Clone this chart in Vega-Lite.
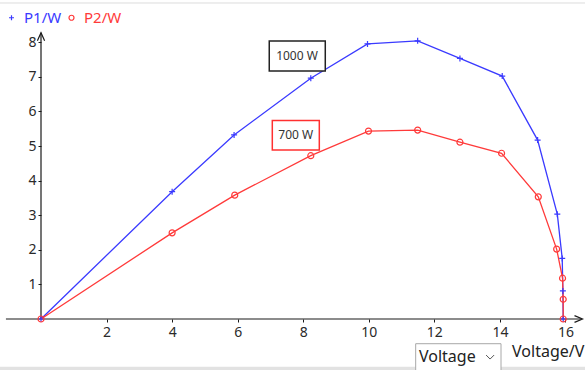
{
  "$schema": "https://vega.github.io/schema/vega-lite/v6.json",
  "width": 585,
  "height": 370,
  "autosize": {"type": "none"},
  "padding": 0,
  "background": "white",
  "config": {"view": {"stroke": null}, "font": "Noto Sans"},
  "resolve": {"legend": {"color": "independent", "shape": "independent"}},
  "datasets": {
    "curves": [
      {"series": "P1/W", "idx": 0, "v": 0, "p": 0},
      {"series": "P1/W", "idx": 1, "v": 4.0, "p": 3.68},
      {"series": "P1/W", "idx": 2, "v": 5.89, "p": 5.32},
      {"series": "P1/W", "idx": 3, "v": 8.23, "p": 6.96},
      {"series": "P1/W", "idx": 4, "v": 9.96, "p": 7.95},
      {"series": "P1/W", "idx": 5, "v": 11.49, "p": 8.04},
      {"series": "P1/W", "idx": 6, "v": 12.78, "p": 7.53},
      {"series": "P1/W", "idx": 7, "v": 14.07, "p": 7.02},
      {"series": "P1/W", "idx": 8, "v": 15.15, "p": 5.17},
      {"series": "P1/W", "idx": 9, "v": 15.75, "p": 3.03},
      {"series": "P1/W", "idx": 10, "v": 15.9, "p": 1.75},
      {"series": "P1/W", "idx": 11, "v": 15.92, "p": 0.81},
      {"series": "P1/W", "idx": 12, "v": 15.93, "p": 0},
      {"series": "P2/W", "idx": 0, "v": 0, "p": 0},
      {"series": "P2/W", "idx": 1, "v": 4.0, "p": 2.49},
      {"series": "P2/W", "idx": 2, "v": 5.91, "p": 3.58},
      {"series": "P2/W", "idx": 3, "v": 8.23, "p": 4.72},
      {"series": "P2/W", "idx": 4, "v": 9.99, "p": 5.43},
      {"series": "P2/W", "idx": 5, "v": 11.49, "p": 5.46},
      {"series": "P2/W", "idx": 6, "v": 12.78, "p": 5.11},
      {"series": "P2/W", "idx": 7, "v": 14.05, "p": 4.79},
      {"series": "P2/W", "idx": 8, "v": 15.17, "p": 3.53},
      {"series": "P2/W", "idx": 9, "v": 15.73, "p": 2.02},
      {"series": "P2/W", "idx": 10, "v": 15.91, "p": 1.18},
      {"series": "P2/W", "idx": 11, "v": 15.93, "p": 0.57},
      {"series": "P2/W", "idx": 12, "v": 15.93, "p": 0}
    ]
  },
  "encoding": {
    "x": {
      "field": "v",
      "type": "quantitative",
      "scale": {"domain": [-1.2508, 16.595], "nice": false, "zero": false},
      "axis": {
        "orient": "bottom",
        "offset": -51,
        "values": [2, 4, 6, 8, 10, 12, 14, 16],
        "domain": false,
        "grid": false,
        "tickSize": 3,
        "tickColor": "#1a1a1a",
        "labelFont": "Noto Sans",
        "labelFontSize": 14,
        "labelColor": "#2a2a2a",
        "labelPadding": 3,
        "labelFlush": false,
        "labelOverlap": false,
        "title": null
      }
    },
    "y": {
      "field": "p",
      "type": "quantitative",
      "scale": {"domain": [-1.474, 9.2197], "nice": false, "zero": false},
      "axis": {
        "orient": "left",
        "offset": -41,
        "values": [1, 2, 3, 4, 5, 6, 7, 8],
        "domain": false,
        "grid": false,
        "tickSize": 3,
        "tickColor": "#1a1a1a",
        "labelFont": "Noto Sans",
        "labelFontSize": 14,
        "labelColor": "#2a2a2a",
        "labelPadding": 2,
        "labelFlush": false,
        "labelOverlap": false,
        "title": null
      }
    }
  },
  "layer": [
    {
      "data": {"values": [{"v": -1.2508, "v2": 16.595, "p": 9.133, "p2": 9.133}]},
      "mark": {"type": "rule", "color": "#dcdcdc", "strokeWidth": 1},
      "encoding": {"x2": {"field": "v2"}, "y2": {"field": "p2"}}
    },
    {
      "data": {"values": [{"v": -1.2508, "v2": 16.595, "p": -1.474, "p2": -1.379}]},
      "mark": {"type": "rect", "color": "#e2e2e2"},
      "encoding": {"x2": {"field": "v2"}, "y2": {"field": "p2"}}
    },
    {
      "data": {"values": [
        {"v": -1.07, "v2": 16.5, "p": 0, "p2": 0},
        {"v": 0, "v2": 0, "p": 0, "p2": 8.27}
      ]},
      "mark": {"type": "rule", "color": "#1a1a1a", "strokeWidth": 1.2},
      "encoding": {"x2": {"field": "v2"}, "y2": {"field": "p2"}}
    },
    {
      "data": {"values": [{"v": 0, "p": 8.159}]},
      "mark": {"type": "point", "shape": "M-0.9,1L0,-1L0.9,1", "size": 64, "filled": false, "stroke": "#1a1a1a", "strokeWidth": 1.2, "opacity": 1}
    },
    {
      "data": {"values": [{"v": 16.397, "p": 0}]},
      "mark": {"type": "point", "shape": "M-1,-0.85L1,0L-1,0.85", "size": 64, "filled": false, "stroke": "#1a1a1a", "strokeWidth": 1.2, "opacity": 1}
    },
    {
      "data": {"name": "curves"},
      "mark": {"type": "line", "strokeWidth": 1.3},
      "encoding": {
        "color": {"field": "series", "type": "nominal", "scale": {"domain": ["P1/W", "P2/W"], "range": ["#3a3aff", "#ff3a3a"]}, "legend": null},
        "detail": {"field": "series"},
        "order": {"field": "idx", "type": "quantitative"}
      }
    },
    {
      "data": {"name": "curves"},
      "mark": {"type": "point", "filled": false, "size": 36, "strokeWidth": 1.2, "opacity": 1},
      "encoding": {
        "color": {
          "field": "series",
          "type": "nominal",
          "scale": {"domain": ["P1/W", "P2/W"], "range": ["#3a3aff", "#ff3a3a"]},
          "legend": {
            "orient": "none",
            "legendX": 4,
            "legendY": 10,
            "direction": "horizontal",
            "title": null,
            "labelFont": "Noto Sans",
            "labelFontSize": 15,
            "labelColor": {"expr": "datum.value === 'P1/W' ? '#3a3aff' : '#ff3a3a'"},
            "symbolSize": 25,
            "symbolStrokeWidth": 1.2,
            "labelOffset": 5,
            "columnPadding": 2
          }
        },
        "shape": {
          "field": "series",
          "type": "nominal",
          "scale": {"domain": ["P1/W", "P2/W"], "range": ["M-1,0H1M0,-1V1", "circle"]},
          "legend": {
            "orient": "none",
            "legendX": 4,
            "legendY": 10,
            "direction": "horizontal",
            "title": null,
            "labelFont": "Noto Sans",
            "labelFontSize": 15,
            "labelColor": {"expr": "datum.value === 'P1/W' ? '#3a3aff' : '#ff3a3a'"},
            "symbolSize": 25,
            "symbolStrokeWidth": 1.2,
            "labelOffset": 5,
            "columnPadding": 2
          }
        }
      }
    },
    {
      "data": {"values": [{"v": 6.963, "v2": 8.672, "p": 8.035, "p2": 7.168}]},
      "mark": {"type": "rect", "fill": "white", "stroke": "#222222", "strokeWidth": 1.5},
      "encoding": {"x2": {"field": "v2"}, "y2": {"field": "p2"}}
    },
    {
      "data": {"values": [{"v": 7.056, "v2": 8.49, "p": 5.737, "p2": 4.884}]},
      "mark": {"type": "rect", "fill": "white", "stroke": "#ff3030", "strokeWidth": 1.5},
      "encoding": {"x2": {"field": "v2"}, "y2": {"field": "p2"}}
    },
    {
      "data": {"values": [
        {"v": 7.81, "p": 7.6, "label": "1000 W"},
        {"v": 7.77, "p": 5.31, "label": "700 W"}
      ]},
      "mark": {"type": "text", "font": "Noto Sans", "fontSize": 12, "color": "#333333", "align": "center", "baseline": "middle"},
      "encoding": {"text": {"field": "label"}}
    },
    {
      "data": {"values": [{"v": 11.43, "v2": 14.033, "p": -0.714, "p2": -1.6}]},
      "mark": {"type": "rect", "fill": "white", "stroke": "#a8a8a8", "strokeWidth": 1},
      "encoding": {"x2": {"field": "v2"}, "y2": {"field": "p2"}}
    },
    {
      "data": {"values": [{"v": 11.53, "p": -1.098, "label": "Voltage"}]},
      "mark": {"type": "text", "font": "Noto Sans", "fontSize": 16, "color": "#222222", "align": "left", "baseline": "middle"},
      "encoding": {"text": {"field": "label"}}
    },
    {
      "data": {"values": [{"v": 13.7, "p": -1.1}]},
      "mark": {"type": "point", "shape": "M-1,-0.5L0,0.5L1,-0.5", "size": 64, "filled": false, "stroke": "#555555", "strokeWidth": 1, "opacity": 1}
    },
    {
      "data": {"values": [{"v": 14.37, "p": -0.968, "label": "Voltage/V"}]},
      "mark": {"type": "text", "font": "Noto Sans", "fontSize": 16, "color": "#222222", "align": "left", "baseline": "middle"},
      "encoding": {"text": {"field": "label"}}
    }
  ]
}
